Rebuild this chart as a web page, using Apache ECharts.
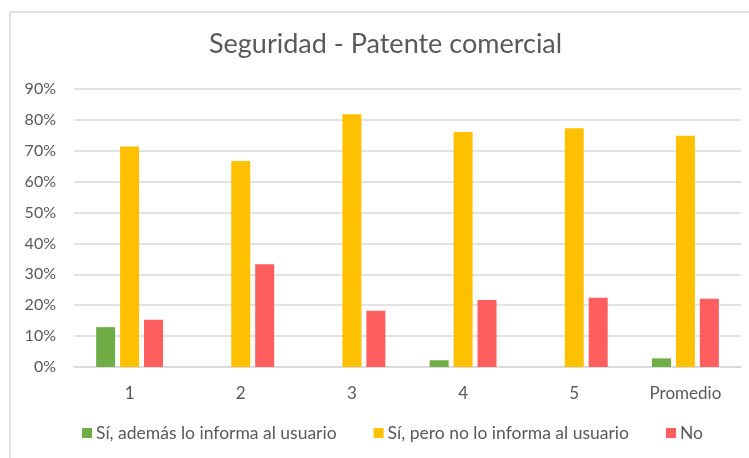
<!DOCTYPE html>
<html>
<head>
<meta charset="utf-8">
<script src="https://cdn.jsdelivr.net/npm/echarts@6/dist/echarts.min.js"></script>
<style>
  html, body { margin: 0; padding: 0; background: #ffffff; }
  #chart { width: 749px; height: 458px; }
</style>
</head>
<body>
<div id="chart"></div>
<script>
// Categories along the x axis
const categories = ['1', '2', '3', '4', '5', 'Promedio'];

// Series names
const seriesNames = [
  'Sí, además lo informa al usuario',
  'Sí, pero no lo informa al usuario',
  'No'
];

// Values in percent for each series
const siInforma = [12.9, 0, 0, 2.2, 0, 2.8];
const siNoInforma = [71.4, 66.7, 81.8, 76.1, 77.3, 74.9];
const noValues = [15.3, 33.3, 18.2, 21.7, 22.4, 22.1];

// Y axis range and step (percent)
const yMin = 0;
const yMax = 90;
const yStep = 10;

const colors = ['#70AD47', '#FFC000', '#FF5E5E'];
const textColor = '#595959';
const fontFamily = 'Lato, "Noto Sans", sans-serif';

const chart = echarts.init(document.getElementById('chart'), null, { renderer: 'canvas' });

const seriesData = [siInforma, siNoInforma, noValues];

chart.setOption({
  backgroundColor: '#ffffff',
  animation: false,
  textStyle: { fontFamily: fontFamily },
  title: {
    text: 'Seguridad - Patente comercial',
    left: 209,
    top: 31,
    padding: 0,
    textStyle: { color: textColor, fontSize: 27, fontWeight: 'normal', fontFamily: fontFamily }
  },
  graphic: [{
    type: 'rect',
    shape: { x: 10, y: 12, width: 800, height: 500 },
    style: { fill: 'none', stroke: '#d9d9d9', lineWidth: 1.5 },
    silent: true
  }],
  legend: {
    data: seriesNames,
    left: 82,
    top: 424,
    padding: 0,
    itemWidth: 10,
    itemHeight: 10,
    itemGap: 37,
    icon: 'rect',
    textStyle: { color: textColor, fontSize: 17.5, fontFamily: fontFamily, padding: [0, 0, 0, -1] }
  },
  grid: { left: 74, right: 8, top: 89, bottom: 91, containLabel: false },
  xAxis: {
    type: 'category',
    data: categories,
    axisLine: { lineStyle: { color: '#d9d9d9', width: 1.5 } },
    axisTick: { show: false },
    axisLabel: { color: textColor, fontSize: 17, margin: 18, fontFamily: fontFamily }
  },
  yAxis: {
    type: 'value',
    min: yMin,
    max: yMax,
    interval: yStep,
    axisLine: { show: false },
    axisTick: { show: false },
    splitLine: { lineStyle: { color: '#d9d9d9', width: 1.5 } },
    axisLabel: { color: textColor, fontSize: 16, margin: 18, formatter: '{value}%', fontFamily: fontFamily }
  },
  series: seriesNames.map((name, i) => ({
    name: name,
    type: 'bar',
    data: seriesData[i],
    barWidth: 19,
    barGap: '26%',
    itemStyle: { color: colors[i] }
  }))
});
</script>
</body>
</html>
